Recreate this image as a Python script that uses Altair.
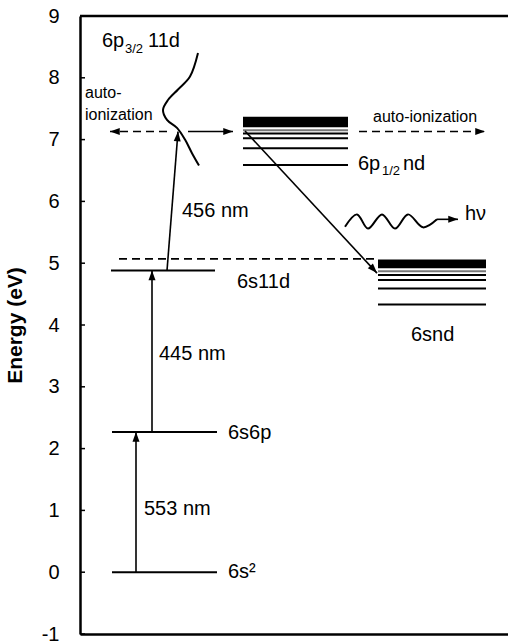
import altair as alt
import pandas as pd
import numpy as np

# ---------------- data (x in diagram units 0..428, E in eV) ----------------
W, H = 428, 618
Y_MIN, Y_MAX = -1, 9
tick_values = [-1, 0, 1, 2, 3, 4, 5, 6, 7, 8, 9]

# single levels
level_x1 = [32, 32, 31]
level_x2 = [137, 137, 135]
level_E = [0.0, 2.27, 4.88]

# ionization threshold (dashed)
thr_x1, thr_x2, thr_E = 39, 297, 5.07

# Rydberg manifolds: filled block + discrete lines
block_x1 = [163, 298]
block_x2 = [268, 406]
block_E1 = [7.20, 4.92]
block_E2 = [7.37, 5.06]
up_lines_E = [7.15, 7.10, 7.02, 6.86, 6.59]
up_lines_col = ["#777777", "black", "black", "black", "black"]
lo_lines_E = [4.87, 4.81, 4.73, 4.59, 4.33]
lo_lines_col = ["#777777", "black", "black", "black", "black"]

# arrows (start -> tip)
arr_x1 = [56, 72, 87, 108, 165, 357]
arr_E1 = [0.0, 2.27, 4.88, 7.13, 7.14, 5.71]
arr_x2 = [56, 72, 98, 153, 297, 378]
arr_E2 = [2.27, 4.88, 7.13, 7.13, 4.84, 5.71]
dash_x1 = [87, 279]
dash_E1 = [7.13, 7.13]
dash_x2 = [30, 405]
dash_E2 = [7.13, 7.13]

# autoionizing resonance profile 6p3/2 11d
curve_x = [118, 110, 98, 88, 83, 87, 97, 105, 112, 119]
curve_E = [8.40, 8.02, 7.81, 7.64, 7.48, 7.32, 7.19, 7.00, 6.78, 6.58]

# photon squiggle
wave_x = [265, 277, 288, 302, 315, 328, 343, 357]
wave_E = [5.59, 5.79, 5.56, 5.79, 5.56, 5.79, 5.58, 5.71]

# labels
lab_text = ["auto-", "ionization", "6p", "3/2", "11d", "456 nm", "445 nm", "553 nm",
            "6s11d", "6s6p", "6s\u00b2", "auto-ionization", "6p", "1/2", "nd", "h\u03bd", "6snd"]
lab_x = [5, 5, 22, 45, 68, 102, 79, 64, 157, 148, 148, 293, 278, 302, 323, 385, 331]
lab_E = [7.68, 7.32, 8.50, 8.40, 8.50, 5.75, 3.43, 0.92, 4.60, 2.16, -0.10, 7.29,
         6.51, 6.43, 6.51, 5.70, 3.74]
lab_size = [16, 16, 20, 13, 20, 20, 20, 20, 20, 20, 20, 16, 20, 13, 20, 20, 20]

# ---------------- helpers ----------------
FONT = "Liberation Sans"
xs = alt.Scale(domain=[0, W], nice=False, zero=False)
ys = alt.Scale(domain=[Y_MIN, Y_MAX], nice=False, zero=False)
PX_PER_E = H / (Y_MAX - Y_MIN)

levels = pd.DataFrame({"x1": level_x1, "x2": level_x2, "E": level_E})
blocks = pd.DataFrame({"x1": block_x1, "x2": block_x2, "E1": block_E1, "E2": block_E2})
blines = pd.DataFrame({
    "x1": [block_x1[0]] * 5 + [block_x1[1]] * 5,
    "x2": [block_x2[0]] * 5 + [block_x2[1]] * 5,
    "E": up_lines_E + lo_lines_E,
    "c": up_lines_col + lo_lines_col,
})
arrows = pd.DataFrame({"x1": arr_x1, "E1": arr_E1, "x2": arr_x2, "E2": arr_E2})
dashes = pd.DataFrame({"x1": dash_x1, "E1": dash_E1, "x2": dash_x2, "E2": dash_E2})
heads = pd.concat([arrows, dashes], ignore_index=True)
heads["ang"] = np.mod(np.degrees(np.arctan2(heads["x2"] - heads["x1"],
                                            (heads["E2"] - heads["E1"]) * PX_PER_E)), 360)
curve = pd.DataFrame({"x": curve_x, "E": curve_E, "i": range(len(curve_x))})
wave = pd.DataFrame({"x": wave_x, "E": wave_E, "i": range(len(wave_x))})
labels = pd.DataFrame({"t": lab_text, "x": lab_x, "E": lab_E, "s": lab_size})
ticks = pd.DataFrame({"E": tick_values})

yaxis = alt.Axis(values=tick_values, ticks=False, labelFont=FONT, labelFontSize=20,
                 labelExpr="'' + datum.value",
                 labelColor="black", labelPadding=21, domainColor="black", domainWidth=2.5,
                 grid=False, title="Energy (eV)", titleFont=FONT, titleFontSize=21,
                 titleFontWeight="bold", titleColor="black", titlePadding=16)
xaxis = alt.Axis(labels=False, ticks=False, grid=False, domainColor="black",
                 domainWidth=2.5, title=None)

base_lv = alt.Chart(levels).mark_rule(color="black", strokeWidth=2).encode(
    x=alt.X("x1:Q", scale=xs, axis=xaxis), x2="x2:Q",
    y=alt.Y("E:Q", scale=ys, axis=yaxis))

thr = alt.Chart(pd.DataFrame({"x1": [thr_x1], "x2": [thr_x2], "E": [thr_E]})).mark_rule(
    color="black", strokeWidth=1.8, strokeDash=[8, 5]).encode(
    x=alt.X("x1:Q", scale=xs), x2="x2:Q", y=alt.Y("E:Q", scale=ys))

blk = alt.Chart(blocks).mark_rect(color="black").encode(
    x=alt.X("x1:Q", scale=xs), x2="x2:Q", y=alt.Y("E1:Q", scale=ys), y2="E2:Q")

bl = alt.Chart(blines).mark_rule(strokeWidth=2).encode(
    x=alt.X("x1:Q", scale=xs), x2="x2:Q", y=alt.Y("E:Q", scale=ys),
    color=alt.Color("c:N", scale=None))

ar = alt.Chart(arrows).mark_rule(color="black", strokeWidth=1.6).encode(
    x=alt.X("x1:Q", scale=xs), x2="x2:Q", y=alt.Y("E1:Q", scale=ys), y2="E2:Q")

da = alt.Chart(dashes).mark_rule(color="black", strokeWidth=1.6, strokeDash=[8, 5]).encode(
    x=alt.X("x1:Q", scale=xs), x2="x2:Q", y=alt.Y("E1:Q", scale=ys), y2="E2:Q")

hd = alt.Chart(heads).mark_point(shape="M0,0L0.36,1L-0.36,1Z", filled=True, opacity=1,
                                 color="black", size=380, strokeWidth=0).encode(
    x=alt.X("x2:Q", scale=xs), y=alt.Y("E2:Q", scale=ys), angle=alt.Angle("ang:Q", scale=None))

cv = alt.Chart(curve).mark_line(color="black", strokeWidth=2, interpolate="catmull-rom").encode(
    x=alt.X("x:Q", scale=xs), y=alt.Y("E:Q", scale=ys), order="i:Q")

wv = alt.Chart(wave).mark_line(color="black", strokeWidth=2, interpolate="catmull-rom").encode(
    x=alt.X("x:Q", scale=xs), y=alt.Y("E:Q", scale=ys), order="i:Q")

tx = alt.Chart(labels).mark_text(align="left", baseline="alphabetic", font=FONT,
                                 color="black").encode(
    x=alt.X("x:Q", scale=xs), y=alt.Y("E:Q", scale=ys), text="t:N",
    size=alt.Size("s:Q", scale=None))

tk = alt.Chart(ticks).mark_rule(color="black", strokeWidth=1.5).encode(
    x=alt.datum(0, scale=xs), x2=alt.datum(5), y=alt.Y("E:Q", scale=ys))

top = alt.Chart(pd.DataFrame({"E": [Y_MAX]})).mark_rule(color="black", strokeWidth=2.5).encode(
    x=alt.datum(0, scale=xs), x2=alt.datum(W), y=alt.Y("E:Q", scale=ys))

chart = alt.layer(base_lv, thr, blk, bl, ar, da, hd, cv, wv, tx, tk, top).properties(
    width=W, height=H, autosize=alt.AutoSizeParams(type="none"),
    padding={"left": 80, "top": 16, "right": 0, "bottom": 9},
    background="white",
).configure_view(stroke=None)

chart.save("out.html", embed_options={"renderer": "svg", "actions": False})
